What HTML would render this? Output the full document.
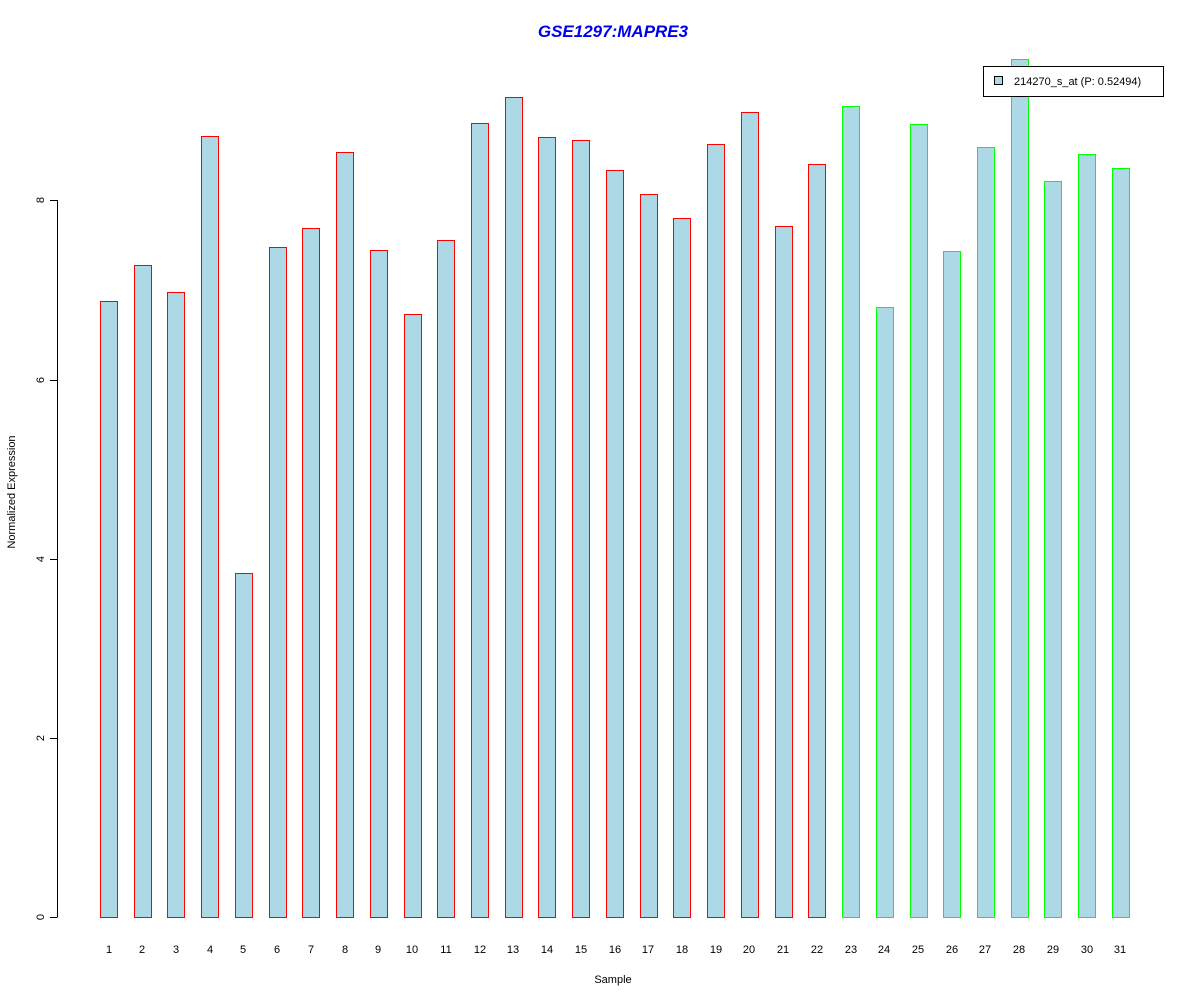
<!DOCTYPE html>
<html><head><style>body{margin:0;background:#fff}</style></head><body>
<svg width="1200" height="1000" xmlns="http://www.w3.org/2000/svg" font-family="Liberation Sans, sans-serif">
<rect width="1200" height="1000" fill="#fff"/>
<text x="613" y="37" text-anchor="middle" font-size="17" font-weight="bold" font-style="italic" fill="#0000ee">GSE1297:MAPRE3</text>
<g fill="#add8e6" stroke="#ff0000" stroke-width="1">
<rect x="100.5" y="301.5" width="17" height="616"/>
<rect x="134.5" y="265.5" width="17" height="652"/>
<rect x="167.5" y="292.5" width="17" height="625"/>
<rect x="201.5" y="136.5" width="17" height="781"/>
<rect x="235.5" y="573.5" width="17" height="344"/>
<rect x="269.5" y="247.5" width="17" height="670"/>
<rect x="302.5" y="228.5" width="17" height="689"/>
<rect x="336.5" y="152.5" width="17" height="765"/>
<rect x="370.5" y="250.5" width="17" height="667"/>
<rect x="404.5" y="314.5" width="17" height="603"/>
<rect x="437.5" y="240.5" width="17" height="677"/>
<rect x="471.5" y="123.5" width="17" height="794"/>
<rect x="505.5" y="97.5" width="17" height="820"/>
<rect x="538.5" y="137.5" width="17" height="780"/>
<rect x="572.5" y="140.5" width="17" height="777"/>
<rect x="606.5" y="170.5" width="17" height="747"/>
<rect x="640.5" y="194.5" width="17" height="723"/>
<rect x="673.5" y="218.5" width="17" height="699"/>
<rect x="707.5" y="144.5" width="17" height="773"/>
<rect x="741.5" y="112.5" width="17" height="805"/>
<rect x="775.5" y="226.5" width="17" height="691"/>
<rect x="808.5" y="164.5" width="17" height="753"/>
</g>
<g fill="#add8e6" stroke="#00ff00" stroke-width="1">
<rect x="842.5" y="106.5" width="17" height="811"/>
<rect x="876.5" y="307.5" width="17" height="610"/>
<rect x="910.5" y="124.5" width="17" height="793"/>
<rect x="943.5" y="251.5" width="17" height="666"/>
<rect x="977.5" y="147.5" width="17" height="770"/>
<rect x="1011.5" y="59.5" width="17" height="858"/>
<rect x="1044.5" y="181.5" width="17" height="736"/>
<rect x="1078.5" y="154.5" width="17" height="763"/>
<rect x="1112.5" y="168.5" width="17" height="749"/>
</g>
<g stroke="#000" stroke-width="1">
<line x1="57.5" y1="200" x2="57.5" y2="917"/>
<line x1="50" y1="917.5" x2="57.5" y2="917.5"/>
<line x1="50" y1="738.5" x2="57.5" y2="738.5"/>
<line x1="50" y1="559.5" x2="57.5" y2="559.5"/>
<line x1="50" y1="380.5" x2="57.5" y2="380.5"/>
<line x1="50" y1="200.5" x2="57.5" y2="200.5"/>
</g>
<g font-size="11" text-anchor="middle">
<text transform="translate(44,917) rotate(-90)">0</text>
<text transform="translate(44,738) rotate(-90)">2</text>
<text transform="translate(44,559) rotate(-90)">4</text>
<text transform="translate(44,380) rotate(-90)">6</text>
<text transform="translate(44,200) rotate(-90)">8</text>
<text transform="translate(15,492) rotate(-90)">Normalized Expression</text>
<text x="613" y="983">Sample</text>
</g>
<g font-size="11" text-anchor="middle">
<text x="109" y="953">1</text><text x="142" y="953">2</text><text x="176" y="953">3</text><text x="210" y="953">4</text><text x="243" y="953">5</text><text x="277" y="953">6</text><text x="311" y="953">7</text><text x="345" y="953">8</text><text x="378" y="953">9</text><text x="412" y="953">10</text><text x="446" y="953">11</text><text x="480" y="953">12</text><text x="513" y="953">13</text><text x="547" y="953">14</text><text x="581" y="953">15</text><text x="615" y="953">16</text><text x="648" y="953">17</text><text x="682" y="953">18</text><text x="716" y="953">19</text><text x="749" y="953">20</text><text x="783" y="953">21</text><text x="817" y="953">22</text><text x="851" y="953">23</text><text x="884" y="953">24</text><text x="918" y="953">25</text><text x="952" y="953">26</text><text x="985" y="953">27</text><text x="1019" y="953">28</text><text x="1053" y="953">29</text><text x="1087" y="953">30</text><text x="1120" y="953">31</text>
</g>
<rect x="983.5" y="66.5" width="180" height="30" fill="#fff" stroke="#000"/>
<rect x="994.5" y="76.5" width="8" height="8" fill="#add8e6" stroke="#000"/>
<text x="1014" y="85" font-size="11">214270_s_at (P: 0.52494)</text>
</svg>
</body></html>
